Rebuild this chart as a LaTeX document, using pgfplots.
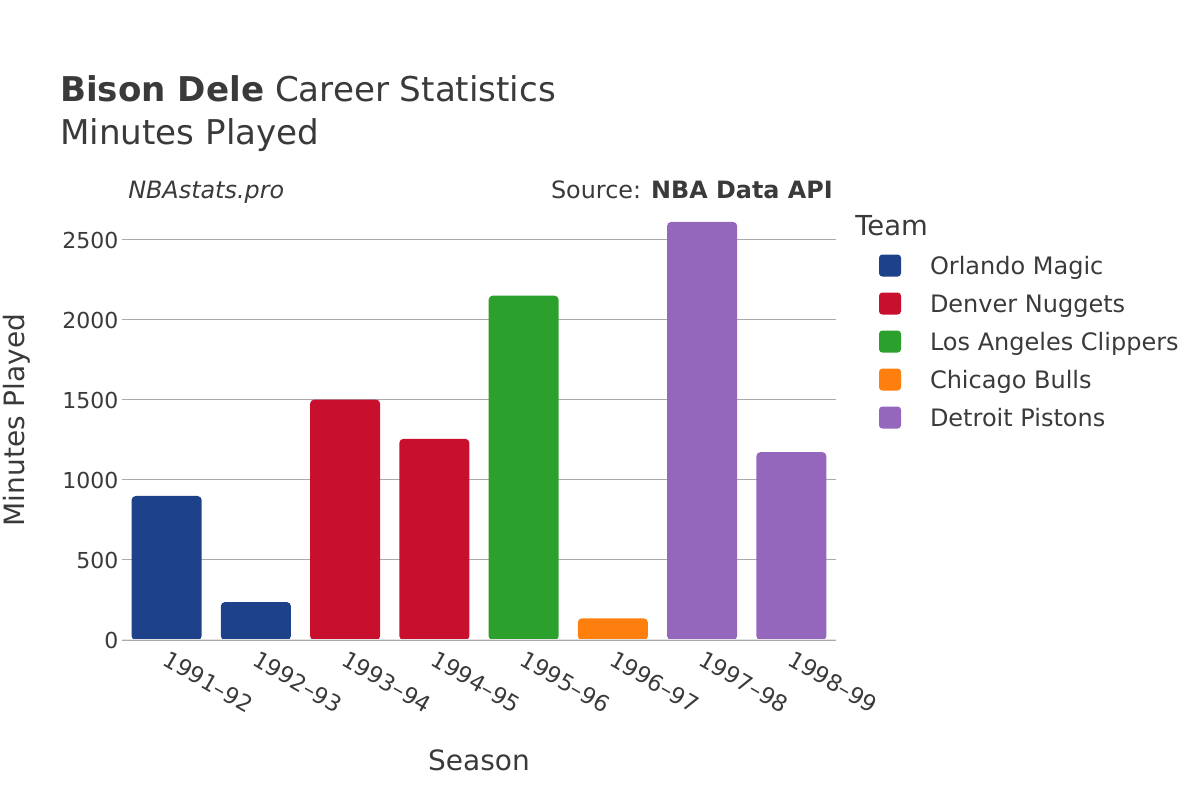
\documentclass[border=0pt]{standalone}
\usepackage{fontspec}
\setmainfont{DejaVu Sans}
\usepackage{pgfplots}
\pgfplotsset{compat=1.18}
\definecolor{txt}{RGB}{58,58,58}
\definecolor{orl}{RGB}{29,66,138}
\definecolor{den}{RGB}{200,16,46}
\definecolor{lac}{RGB}{44,160,44}
\definecolor{chi}{RGB}{255,127,14}
\definecolor{det}{RGB}{148,103,189}
\definecolor{grd}{RGB}{170,170,170}
\definecolor{zer}{RGB}{228,228,228}
\newcommand\fs[1]{\fontsize{#1}{#1}\selectfont}
\begin{document}
\begin{tikzpicture}[x=0.75pt,y=0.75pt]
\path[use as bounding box] (0,0) rectangle (1200,800);
\begin{axis}[
  at={(91.5pt,120pt)}, anchor=south west,
  width=535.5pt, height=330pt, scale only axis,
  xmin=-0.5, xmax=7.5, ymin=0, ymax=2750,
  xtick={0,...,7},
  xticklabels={1991–92,1992–93,1993–94,1994–95,1995–96,1996–97,1997–98,1998–99},
  ytick={0,500,1000,1500,2000,2500},
  major tick length=0pt,
  axis line style={draw=none},
  ymajorgrids, grid style={grd, line width=0.75pt},
  tick label style={font=\fs{16.5pt}, text=txt},
  /pgf/number format/assume math mode=true,
  /pgf/number format/1000 sep={},
  yticklabel style={inner sep=0pt, xshift=-2.5pt},
  xticklabel style={font=\fs{17pt}, xshift=2.7pt, yshift=-7.2pt, rotate=-30, anchor=north west, inner sep=0pt},
  legend style={at={(1,1)}, anchor=north west, xshift=32.25pt, yshift=-37.9pt,
    draw=none, fill=none, inner sep=0pt, outer sep=0pt, row sep=6pt,
    font=\fs{18pt}, text=txt,
    nodes={inner sep=0pt, text height=18pt, text depth=4.5pt},
    /tikz/every odd column/.append style={column sep=21.75pt}},
  legend cell align=left,
  legend image code/.code={\fill[#1, draw=none, rounded corners=2.5pt] (0pt,-8.25pt) rectangle (16.5pt,8.25pt);},
]
\addplot[ybar, bar width=52.5pt, bar shift=0pt, fill=orl, draw=none, rounded corners=3pt] coordinates {(0,900) (1,237)};
\addlegendentry{Orlando Magic}
\addplot[ybar, bar width=52.5pt, bar shift=0pt, fill=den, draw=none, rounded corners=3pt] coordinates {(2,1502) (3,1257)};
\addlegendentry{Denver Nuggets}
\addplot[ybar, bar width=52.5pt, bar shift=0pt, fill=lac, draw=none, rounded corners=3pt] coordinates {(4,2152)};
\addlegendentry{Los Angeles Clippers}
\addplot[ybar, bar width=52.5pt, bar shift=0pt, fill=chi, draw=none, rounded corners=3pt] coordinates {(5,135)};
\addlegendentry{Chicago Bulls}
\addplot[ybar, bar width=52.5pt, bar shift=0pt, fill=det, draw=none, rounded corners=3pt] coordinates {(6,2613) (7,1174)};
\addlegendentry{Detroit Pistons}
\draw[zer, line width=1.5pt] (rel axis cs:0,0) -- (rel axis cs:1,0);
\end{axis}
\node[anchor=base west, text=txt, inner sep=0pt, font=\fs{25.6pt}] at (60,698) {\textbf{Bison Dele} Career Statistics};
\node[anchor=base west, text=txt, inner sep=0pt, font=\fs{25.6pt}] at (60,655) {Minutes Played};
\node[anchor=base west, text=txt, inner sep=0pt, font=\fs{17.9pt}\itshape] at (128,601) {NBAstats.pro};
\node[anchor=base east, text=txt, inner sep=0pt, font=\fs{17.9pt}] at (833,601) {Source: \textbf{NBA Data API}};
\node[anchor=base west, text=txt, inner sep=0pt, font=\fs{20.6pt}] at (855,564) {Team};
\node[text=txt, inner sep=0pt, font=\fs{21pt}] at (479,40) {Season};
\node[text=txt, inner sep=0pt, font=\fs{21pt}, rotate=90] at (17,380) {Minutes Played};
\end{tikzpicture}
\end{document}
